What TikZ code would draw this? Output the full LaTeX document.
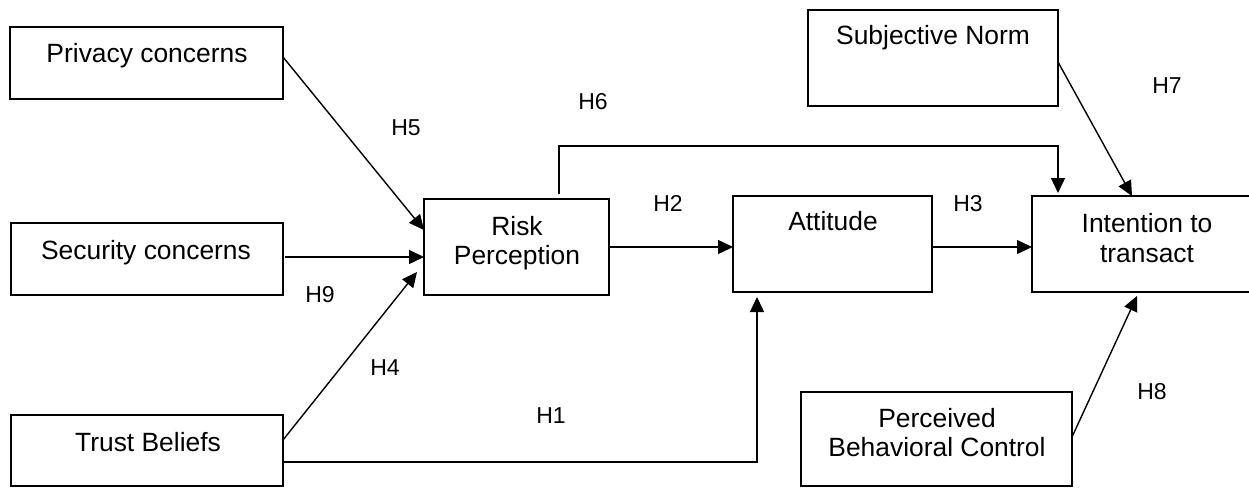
\documentclass[tikz,border=0pt]{standalone}
\usepackage{fontspec}
\setmainfont{Liberation Sans}
\usetikzlibrary{arrows.meta}
\begin{document}
\begin{tikzpicture}[x=1pt,y=-1pt,
  box/.style={draw, line width=1.5pt, inner sep=0pt, outer sep=0pt},
  txt/.style={font=\fontsize{26.4}{30}\selectfont, anchor=base, inner sep=0pt},
  hyp/.style={font=\fontsize{23}{27}\selectfont, anchor=base, inner sep=0pt},
  arr/.style={line width=1.4pt, -{Triangle[length=15pt,width=14pt]}}]
\clip (0,0) rectangle (1249,487);
\fill[white] (0,0) rectangle (1249,487);
% boxes
\node[box, minimum width=273pt, minimum height=72pt] (priv) at (146.5,63) {};
\node[box, minimum width=272pt, minimum height=72pt] (sec) at (147,259) {};
\node[box, minimum width=272pt, minimum height=71pt] (trust) at (147,450.5) {};
\node[box, minimum width=185pt, minimum height=96pt] (risk) at (516.5,247) {};
\node[box, minimum width=199pt, minimum height=96pt] (att) at (832.5,244) {};
\node[box, minimum width=230pt, minimum height=96pt] (intent) at (1147,244) {};
\node[box, minimum width=250pt, minimum height=96pt] (subj) at (933,58) {};
\node[box, minimum width=271pt, minimum height=94pt] (pbc) at (936.5,439) {};
% texts
\node[txt] (privT) at (147,63) {Privacy concerns};
\node[txt] (secT) at (146,259) {Security concerns};
\node[txt] (trustT) at (148,451) {Trust Beliefs};
\node[txt] (riskT1) at (517,235) {Risk};
\node[txt] (riskT2) at (517,264) {Perception};
\node[txt] (attT) at (833,230) {Attitude};
\node[txt] (intT1) at (1147,232) {Intention to};
\node[txt] (intT2) at (1147,262) {transact};
\node[txt] (subjT) at (933,45) {Subjective Norm};
\node[txt] (pbcT1) at (937,427) {Perceived};
\node[txt] (pbcT2) at (937,456) {Behavioral Control};
% hypothesis labels
\node[hyp] (h5) at (406,135) {H5};
\node[hyp] (h6) at (593,109) {H6};
\node[hyp] (h2) at (668,211) {H2};
\node[hyp] (h3) at (968,211) {H3};
\node[hyp] (h7) at (1167,93) {H7};
\node[hyp] (h8) at (1152,399) {H8};
\node[hyp] (h9) at (320,302) {H9};
\node[hyp] (h4) at (385,375) {H4};
\node[hyp] (h1) at (551,423) {H1};
% connectors
\draw[arr] ([yshift=6pt]priv.east) -- ([yshift=17pt]risk.west);
\draw[arr] ([shift={(2pt,2pt)}]sec.east) -- ([yshift=-10pt]risk.west);
\draw[arr] ([yshift=10.5pt]trust.east) -- ([shift={(-7pt,-25pt)}]risk.west);
\draw[arr] ([yshift=-11.5pt]trust.east) -| ([shift={(-75.5pt,-5pt)}]att.south);
\draw[arr] (risk.east) -- (risk.east -| att.west);
\draw[arr] ([shift={(42.5pt,5pt)}]risk.north) -- ++(0,-48) -| ([shift={(-89pt,3pt)}]intent.north);
\draw[arr] ([yshift=-3pt]att.east) -- ([yshift=-3pt]intent.west);
\draw[arr] ([yshift=-4pt]subj.east) -- ([xshift=-15pt]intent.north);
\draw[arr] ([yshift=2pt]pbc.east) -- ([shift={(-10pt,-4pt)}]intent.south);
\end{tikzpicture}
\end{document}
